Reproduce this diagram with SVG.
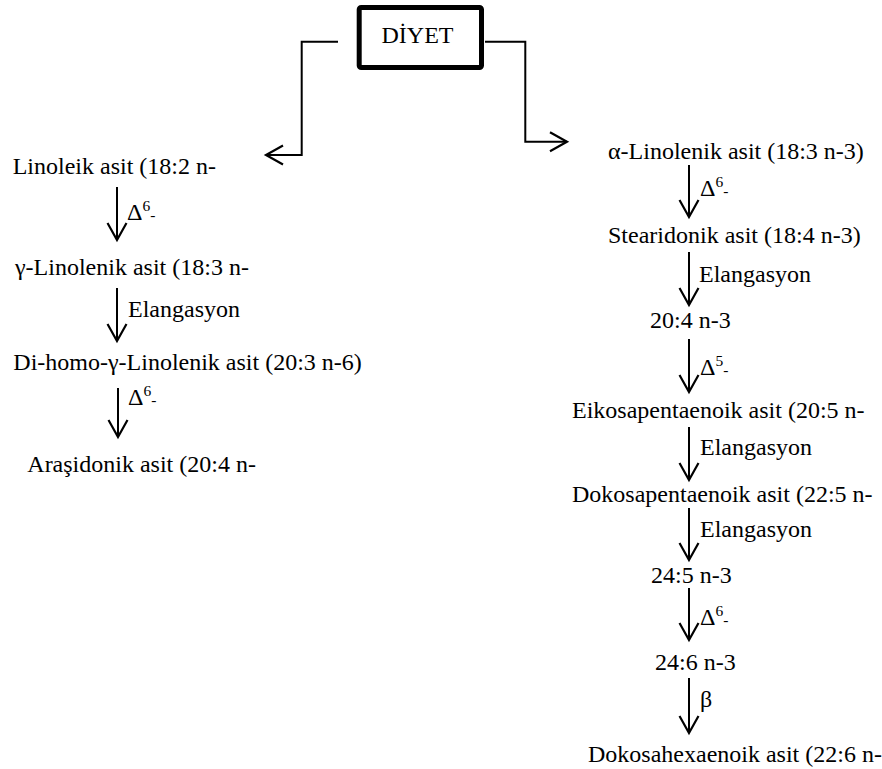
<svg xmlns="http://www.w3.org/2000/svg" width="882" height="769" viewBox="0 0 882 769">
<style>
text{font-family:"Liberation Serif","Times New Roman",serif;font-size:24px;fill:#000}
.sup{font-size:15.5px}
.ar{fill:none;stroke:#000;stroke-width:2;marker-end:url(#ah)}
</style>
<defs>
<marker id="ah" markerUnits="userSpaceOnUse" viewBox="-20 -12 22 24" refX="0" refY="0" markerWidth="22" markerHeight="24" orient="auto" overflow="visible">
<path d="M-17,-9.5 L0,0 L-17,9.5" fill="none" stroke="#000" stroke-width="2.2"/>
</marker>
</defs>
<rect width="882" height="769" fill="#fff"/>
<g id="diyet">
<rect x="359.2" y="7.5" width="122.3" height="60" rx="2" fill="#fff" stroke="#000" stroke-width="5"/>
<text x="381.5" y="43">DİYET</text>
</g>
<g id="linoleik"><text x="12.7" y="174">Linoleik asit (18:2 n-</text></g>
<g id="gamma-linolenik"><text x="15" y="275">γ-Linolenik asit (18:3 n-</text></g>
<g id="dihomo"><text x="13.3" y="370">Di-homo-γ-Linolenik asit (20:3 n-6)</text></g>
<g id="arasidonik"><text x="27.3" y="472">Araşidonik asit (20:4 n-</text></g>
<g id="alfa-linolenik"><text x="608" y="159">α-Linolenik asit (18:3 n-3)</text></g>
<g id="stearidonik"><text x="608" y="243">Stearidonik asit (18:4 n-3)</text></g>
<g id="n20-4"><text x="650" y="328">20:4 n-3</text></g>
<g id="eikosa"><text x="572" y="418">Eikosapentaenoik asit (20:5 n-</text></g>
<g id="dokosapenta"><text x="572" y="502">Dokosapentaenoik asit (22:5 n-</text></g>
<g id="n24-5"><text x="651" y="583">24:5 n-3</text></g>
<g id="n24-6"><text x="655" y="670">24:6 n-3</text></g>
<g id="dokosahexa"><text x="588" y="762">Dokosahexaenoik asit (22:6 n-</text></g>
<g id="connectors">
<path class="ar" d="M338,41.7 H301.7 V155 H266"/>
<path class="ar" d="M485,41.7 H525.3 V141.7 H567"/>
<path class="ar" d="M117,187 V240"/>
<path class="ar" d="M117,288 V341"/>
<path class="ar" d="M118,388 V437"/>
<path class="ar" d="M689,165 V217"/>
<path class="ar" d="M689,252 V305"/>
<path class="ar" d="M689,339 V392"/>
<path class="ar" d="M689,427 V480"/>
<path class="ar" d="M689,508 V560"/>
<path class="ar" d="M689,588 V640"/>
<path class="ar" d="M689,678 V733"/>
<text x="127" y="220">Δ<tspan class="sup" dy="-9">6</tspan><tspan class="sup" dy="9">-</tspan></text>
<text x="128" y="317">Elangasyon</text>
<text x="128" y="405">Δ<tspan class="sup" dy="-9">6</tspan><tspan class="sup" dy="9">-</tspan></text>
<text x="700" y="196">Δ<tspan class="sup" dy="-9">6</tspan><tspan class="sup" dy="9">-</tspan></text>
<text x="699" y="282">Elangasyon</text>
<text x="700" y="375">Δ<tspan class="sup" dy="-9">5</tspan><tspan class="sup" dy="9">-</tspan></text>
<text x="700" y="455">Elangasyon</text>
<text x="700" y="537">Elangasyon</text>
<text x="700" y="625">Δ<tspan class="sup" dy="-9">6</tspan><tspan class="sup" dy="9">-</tspan></text>
<text x="700" y="707">β</text>
</g>
</svg>
